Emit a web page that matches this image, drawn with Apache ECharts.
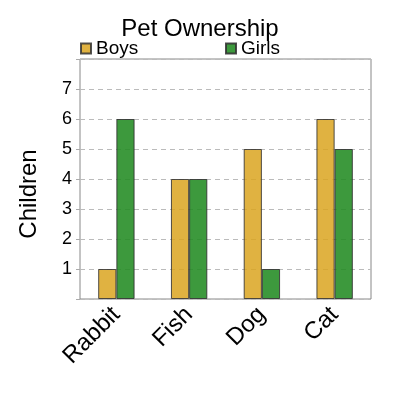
<!DOCTYPE html>
<html>
<head>
<meta charset="utf-8">
<script src="https://cdn.jsdelivr.net/npm/echarts@6/dist/echarts.min.js"></script>
<style>
  html, body { margin: 0; padding: 0; background: #fff; }
  #chart { width: 400px; height: 400px; }
</style>
</head>
<body>
<div id="chart"></div>
<script>
const pets = ['Rabbit', 'Fish', 'Dog', 'Cat'];
const boys = [1, 4, 5, 6];
const girls = [6, 4, 1, 5];
const yTicks = [1, 2, 3, 4, 5, 6, 7];

const chart = echarts.init(document.getElementById('chart'));
const font = 'Liberation Sans, Arial, sans-serif';

chart.setOption({
  animation: false,
  title: {
    text: 'Pet Ownership', left: 'center', top: 12,
    textStyle: { fontFamily: font, fontSize: 24, fontWeight: 'normal', color: '#000' }
  },
  legend: [
    {
      data: ['Boys'], left: 80, top: 39, padding: 0, icon: 'rect', itemWidth: 10, itemHeight: 10,
      textStyle: { fontFamily: font, fontSize: 19, color: '#000' }, itemGap: 4
    },
    {
      data: ['Girls'], left: 225, top: 39, padding: 0, icon: 'rect', itemWidth: 10, itemHeight: 10,
      textStyle: { fontFamily: font, fontSize: 19, color: '#000' }, itemGap: 4
    }
  ],
  graphic: [{
    type: 'text', x: 17, y: 194, rotation: Math.PI / 2,
    style: {
      text: 'Children', fontFamily: font, fontSize: 24, fill: '#000',
      align: 'center', verticalAlign: 'top'
    }
  }],
  grid: { left: 80, right: 29, top: 59, bottom: 101, show: true, borderColor: '#888', borderWidth: 1 },
  xAxis: {
    type: 'category', data: pets,
    axisLine: { show: false }, axisTick: { show: false },
    axisLabel: { rotate: 45, fontFamily: font, fontSize: 24, color: '#000', margin: 12, interval: 0 }
  },
  yAxis: {
    type: 'value', min: 0, max: 8, interval: 1,
    axisLine: { show: false },
    axisTick: { show: true, length: 4, lineStyle: { color: '#aaa' } },
    axisLabel: {
      fontFamily: font, fontSize: 18, color: '#000', margin: 8,
      formatter: v => yTicks.includes(v) ? String(v) : ''
    },
    splitLine: { lineStyle: { type: [5, 4], color: '#bbb', width: 1.2 } }
  },
  series: [
    {
      name: 'Boys', type: 'bar', data: boys, barCategoryGap: '50%', barGap: '0%',
      itemStyle: { color: '#daa520', opacity: 0.85, borderColor: '#333', borderWidth: 1 }
    },
    {
      name: 'Girls', type: 'bar', data: girls,
      itemStyle: { color: '#228b22', opacity: 0.88, borderColor: '#333', borderWidth: 1 }
    }
  ]
});
</script>
</body>
</html>
